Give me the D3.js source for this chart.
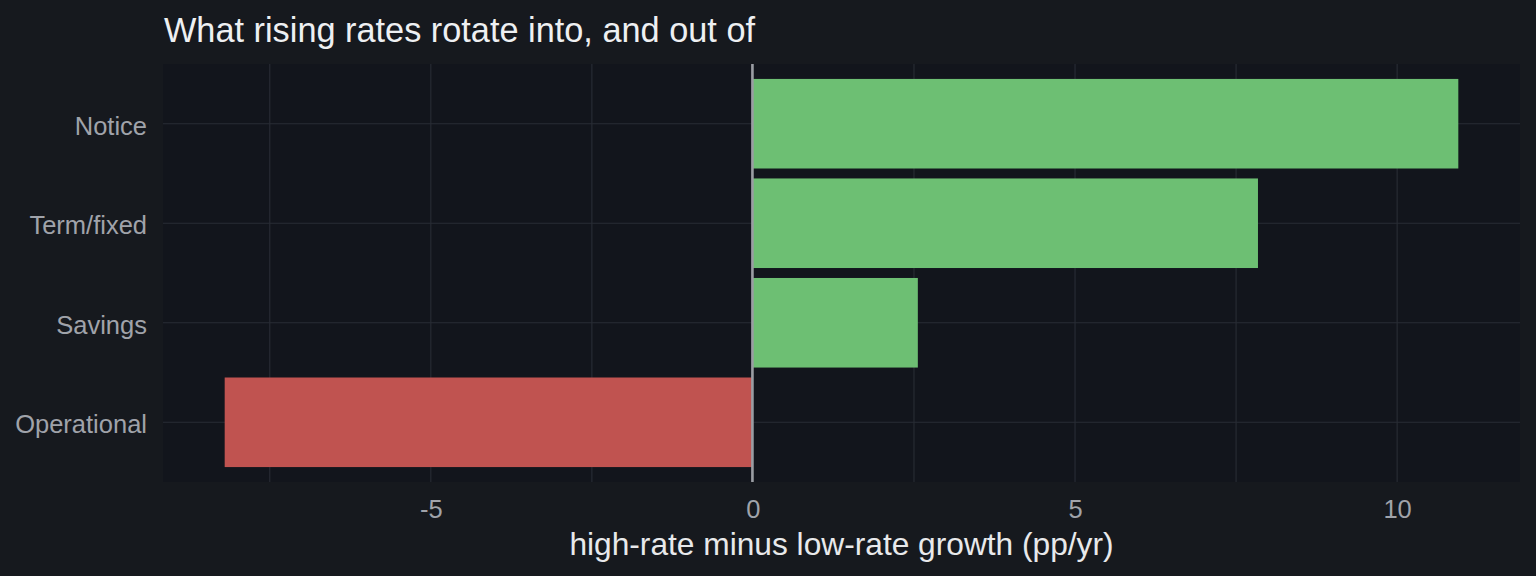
<html>

<head>
    <meta charset="utf-8">
    <style>
        body { margin: 0; background: #16191e; }
        svg text { font-family: "Liberation Sans", Arial, sans-serif; }
    </style>
</head>

<body>
    <svg id="chart" width="1536" height="576"></svg>
</body>
<script src="https://d3js.org/d3.v7.min.js"></script>
<script>
    // data
    let categories = ["Notice", "Term/fixed", "Savings", "Operational"]
    let values = [10.95, 7.84, 2.56, -8.2]
    let majorTicks = [-5, 0, 5, 10]
    let minorTicks = [-7.5, -2.5, 2.5, 7.5]
    let title = "What rising rates rotate into, and out of"
    let xTitle = "high-rate minus low-rate growth (pp/yr)"

    let rows = categories.map((c, i) => ({ name: c, value: values[i] }))

    let svg = d3.select("#chart")
    let panel = { left: 163, right: 1520, top: 64, bottom: 482 }

    svg.append("rect")
        .attr("width", 1536).attr("height", 576)
        .attr("fill", "#16191e")
    svg.append("rect")
        .attr("x", panel.left).attr("y", panel.top)
        .attr("width", panel.right - panel.left)
        .attr("height", panel.bottom - panel.top)
        .attr("fill", "#12151c")

    // ggplot-like 5% expansion, bars include zero
    let lo = Math.min(0, d3.min(values)), hi = Math.max(0, d3.max(values))
    let pad = (hi - lo) * 0.05
    let x = d3.scaleLinear()
        .domain([lo - pad, hi + pad])
        .range([panel.left, panel.right])

    let y = d3.scaleBand()
        .domain(categories)
        .range([panel.top, panel.bottom])
        .paddingInner(0.1)
        .paddingOuter(0.15)

    let gridColor = "#292d35"
    // vertical gridlines (minor + major)
    svg.append("g").selectAll("line")
        .data(minorTicks.concat(majorTicks))
        .join("line")
        .attr("x1", d => x(d)).attr("x2", d => x(d))
        .attr("y1", panel.top).attr("y2", panel.bottom)
        .attr("stroke", gridColor).attr("stroke-width", 1.1)
    // horizontal gridlines
    svg.append("g").selectAll("line")
        .data(categories)
        .join("line")
        .attr("x1", panel.left).attr("x2", panel.right)
        .attr("y1", d => y(d) + y.bandwidth() / 2)
        .attr("y2", d => y(d) + y.bandwidth() / 2)
        .attr("stroke", gridColor).attr("stroke-width", 1.1)

    // bars
    svg.append("g").selectAll("rect")
        .data(rows)
        .join("rect")
        .attr("x", d => x(Math.min(0, d.value)))
        .attr("width", d => Math.abs(x(d.value) - x(0)))
        .attr("y", d => y(d.name))
        .attr("height", y.bandwidth())
        .attr("fill", d => d.value >= 0 ? "#6dbf73" : "#c05350")

    // zero line
    svg.append("line")
        .attr("x1", x(0) - 0.5).attr("x2", x(0) - 0.5)
        .attr("y1", panel.top).attr("y2", panel.bottom)
        .attr("stroke", "#9a9da3").attr("stroke-width", 2.6)

    // axes
    let xAxis = d3.axisBottom(x).tickValues(majorTicks).tickSize(0).tickPadding(0)
        .tickFormat(d => String(d))
    let gx = svg.append("g")
        .attr("transform", `translate(0,${panel.bottom})`)
        .call(xAxis)
    gx.select(".domain").remove()
    gx.selectAll("text")
        .attr("y", 36).attr("dy", null)
        .attr("fill", "#a0a3aa")
        .style("font-size", "25.5px")

    let yAxis = d3.axisLeft(y).tickSize(0).tickPadding(0)
    let gy = svg.append("g")
        .attr("transform", `translate(${panel.left - 16},0)`)
        .call(yAxis)
    gy.select(".domain").remove()
    gy.selectAll("text")
        .attr("x", 0).attr("dy", null).attr("y", 11)
        .attr("fill", "#a0a3aa")
        .style("font-size", "25.5px")

    svg.append("text")
        .attr("x", (panel.left + panel.right) / 2).attr("y", 555)
        .attr("text-anchor", "middle")
        .attr("fill", "#e8e9eb")
        .style("font-size", "31.7px")
        .text(xTitle)

    svg.append("text")
        .attr("x", 164).attr("y", 42)
        .attr("fill", "#eef0f2")
        .style("font-size", "34.3px")
        .text(title)
</script>

</html>
